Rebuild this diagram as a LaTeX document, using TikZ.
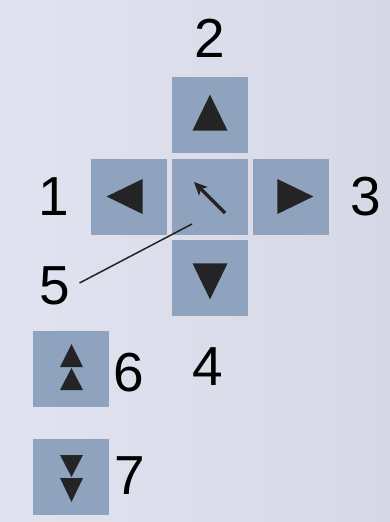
\documentclass[tikz,border=0pt]{standalone}
\usepackage{fontspec}
\setmainfont{Liberation Sans}
\usetikzlibrary{arrows.meta, positioning, calc}
\definecolor{bgleft}{RGB}{226,227,240}
\definecolor{bgright}{RGB}{215,216,230}
\definecolor{btnfill}{RGB}{143,163,190}
\definecolor{trifill}{RGB}{36,36,38}

\begin{document}
\begin{tikzpicture}[
  x=1pt, y=-1pt,
  >=Stealth,
  btn/.style = {fill=btnfill, minimum size=76pt, inner sep=0pt},
  tri/.style = {fill=trifill},
  num/.style = {font=\fontsize{55}{55}\selectfont, inner sep=0pt},
  node distance = 5pt and 5pt
]
% background
\shade[left color=bgleft, right color=bgright] (0,0) rectangle (390,522);
\useasboundingbox (0,0) rectangle (390,522);

% cross of buttons
\node[btn] (ctr) at (210,196.5) {};
\node[btn, above=of ctr] (up) {};
\node[btn, below=of ctr] (down) {};
\node[btn, left=of ctr] (left) {};
\node[btn, right=of ctr] (right) {};

% page buttons
\node[btn] (pgup) at (71,369) {};
\node[btn] (pgdn) at (71,476.5) {};

% arrow heads
\fill[tri, shift={(up)}] (0,-20.5) -- (17.5,15.5) -- (-17.5,15.5) -- cycle;
\fill[tri, shift={(down)}] (0,21.5) -- (17.5,-14.5) -- (-17.5,-14.5) -- cycle;
\fill[tri, shift={(left)}] (-22,0) -- (14,-17.5) -- (14,17.5) -- cycle;
\fill[tri, shift={(right)}] (22,0) -- (-14,-17.5) -- (-14,17.5) -- cycle;

\fill[tri, shift={(pgup)}] (0.5,-25) -- (12,-2) -- (-11,-2) -- cycle
                           (0.5,-1) -- (12,21) -- (-11,21) -- cycle;
\fill[tri, shift={(pgdn)}] (0.5,0.5) -- (12,-21.5) -- (-11,-21.5) -- cycle
                           (0.5,25.5) -- (12,1.5) -- (-11,1.5) -- cycle;

% pointer in the centre
\coordinate (ptail) at ($(ctr)+(15,16.5)$);
\coordinate (ptip) at ($(ctr)+(-16,-14.5)$);
\draw[-{Stealth[length=13pt,width=12pt,inset=3pt]}, line width=3.4pt, trifill] (ptail) -- (ptip);

% labels
\node[num] (lab2) at (210,38) {2};
\node[num] (lab1) at (54,197) {1};
\node[num] (lab3) at (366,197) {3};
\node[num] (lab4) at (208,367) {4};
\node[num] (lab5) at (55,286) {5};
\node[num] (lab6) at (129,373) {6};
\node[num] (lab7) at (130,476) {7};

\coordinate (p5) at ($(ctr)+(-18,27.5)$);
\draw[line width=1.5pt, trifill] ([xshift=9pt,yshift=3pt]lab5.east) -- (p5);
\end{tikzpicture}
\end{document}
